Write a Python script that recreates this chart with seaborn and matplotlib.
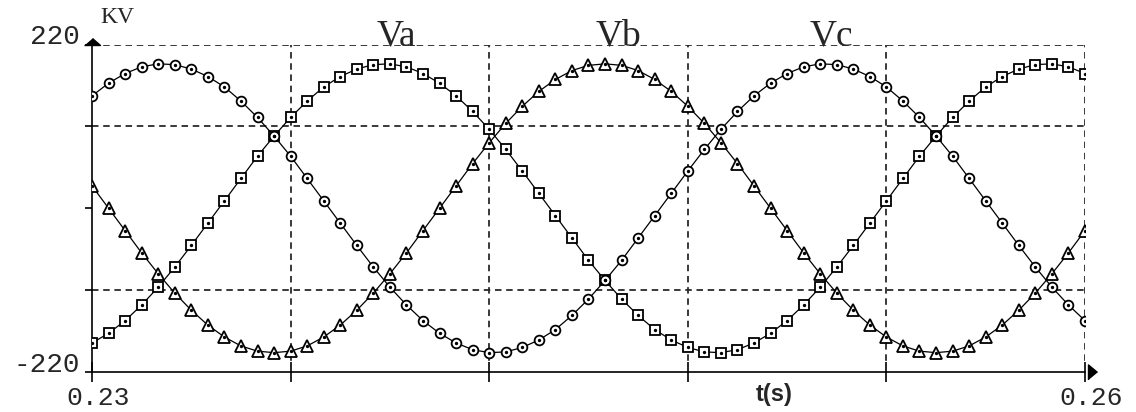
import matplotlib
matplotlib.use("Agg")
import matplotlib.pyplot as plt
import matplotlib.transforms as mtransforms
import seaborn as sns
import numpy as np

# samples every 0.5 ms between 0.23 s and 0.26 s
t = np.linspace(0.23, 0.26, 61)

va = [-181, -168, -151, -130, -106, -79, -50, -20, 10, 40,
      70, 97, 122, 144, 163, 177, 187, 193, 194, 190,
      181, 168, 151, 130, 106, 79, 50, 20, -10, -40,
      -70, -97, -122, -144, -163, -177, -187, -193, -194, -190,
      -181, -168, -151, -130, -106, -79, -50, -20, 10, 40,
      70, 97, 122, 144, 163, 177, 187, 193, 194, 190, 181]

vb = [30, 0, -30, -60, -88, -114, -137, -157, -173, -185,
      -192, -194, -192, -185, -173, -157, -137, -114, -88, -60,
      -30, 0, 30, 60, 88, 114, 137, 157, 173, 185,
      192, 194, 192, 185, 173, 157, 137, 114, 88, 60,
      30, 0, -30, -60, -88, -114, -137, -157, -173, -185,
      -192, -194, -192, -185, -173, -157, -137, -114, -88, -60, -30]

vc = [151, 168, 181, 190, 194, 193, 187, 177, 163, 144,
      122, 97, 70, 40, 10, -20, -50, -79, -106, -130,
      -151, -168, -181, -190, -194, -193, -187, -177, -163, -144,
      -122, -97, -70, -40, -10, 20, 50, 79, 106, 130,
      151, 168, 181, 190, 194, 193, 187, 177, 163, 144,
      122, 97, 70, 40, 10, -20, -50, -79, -106, -130, -151]

labels = ["Va", "Vb", "Vc"]
label_x = [0.23921, 0.24592, 0.25233]
grid_x = [0.236, 0.242, 0.248, 0.254, 0.26]
grid_y = [110, -110, 220]
x_ticks = [0.23, 0.236, 0.242, 0.248, 0.254, 0.26]
x_ticklabels = ["0.23", "", "", "", "", "0.26"]
y_ticks = [-220, -110, 0, 110, 220]
y_ticklabels = ["-220", "", "", "", "220"]

sns.set_theme(style="white")
plt.rcParams["font.family"] = ["Liberation Mono", "DejaVu Sans"]

fig = plt.figure(figsize=(11.36, 4.12), dpi=100)
ax = fig.add_axes([92 / 1136, 1 - 372 / 412, 993 / 1136, 327.5 / 412])

# dashed grid
for gx in grid_x:
    ax.axvline(gx, color="#2a2a2a", lw=1.3, dashes=(3.6, 2.6), zorder=1)
for gy in grid_y:
    ax.axhline(gy, color="#2a2a2a", lw=1.3, dashes=(3.6, 2.6), zorder=1)

series = [(va, "s"), (vb, "^"), (vc, "o")]
for vals, mk in series:
    ms = 8.2 if mk == "^" else 7.0
    sns.lineplot(x=t, y=vals, ax=ax, color="black", lw=0.9, marker=mk,
                 markersize=ms, markerfacecolor="white", markeredgecolor="black",
                 markeredgewidth=1.3, zorder=3)
    ax.plot(t, vals, ls="none", marker="o", ms=1.4, color="black", zorder=4)

ax.set_xlim(0.23, 0.26)
ax.set_ylim(-220, 220)

for s in ["top", "right"]:
    ax.spines[s].set_visible(False)
for s in ["left", "bottom"]:
    ax.spines[s].set_color("black")
    ax.spines[s].set_linewidth(1.2)

ax.set_xticks(x_ticks, x_ticklabels)
ax.set_yticks(y_ticks, y_ticklabels)
ax.tick_params(axis="x", direction="inout", length=14, width=1.2, color="black",
               pad=3, labelsize=19, bottom=True)
ax.tick_params(axis="y", direction="out", length=5, width=1.2, color="black",
               pad=4, labelsize=20, left=True)
for lab in ax.get_yticklabels():
    lab.set_va("baseline")
shift = mtransforms.ScaledTranslation(6 / 100, 0, fig.dpi_scale_trans)
for lab in ax.get_xticklabels():
    lab.set_transform(lab.get_transform() + shift)
ax.set_xlabel("")
ax.set_ylabel("")

# axis arrows
ax.plot([0], [1], transform=ax.transAxes, clip_on=False, color="black",
        marker=[(-8, 0), (8, 0), (0, 7)], ms=11.5, zorder=5)
ax.plot([1.003], [0], transform=ax.transAxes, clip_on=False, color="black",
        marker=[(0, -7.5), (0, 7.5), (9, 0)], ms=13, zorder=5)

ax.text(0.008, 1.05, "KV", transform=ax.transAxes, fontsize=17,
        family=["Liberation Serif"], ha="left", va="bottom")

for lx, name in zip(label_x, labels):
    ax.text(lx, 219, name, fontsize=27, family=["Liberation Serif"],
            ha="center", va="baseline")

fig.text(774 / 1136, 1 - 401 / 412, "t(s)", fontsize=17, fontweight="bold",
         family=["Liberation Sans"], ha="center", va="baseline")

fig.savefig("out.png", dpi=100)
